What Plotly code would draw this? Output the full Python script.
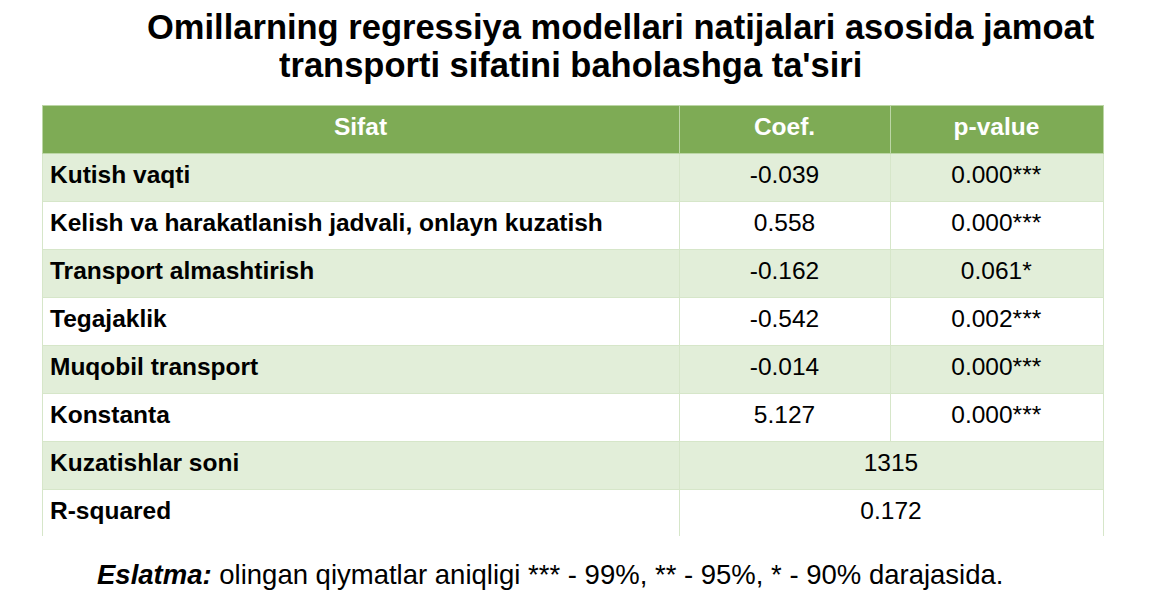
import plotly.graph_objects as go

# ---- data ----
sifat = [
    "Kutish vaqti",
    "Kelish va harakatlanish jadvali, onlayn kuzatish",
    "Transport almashtirish",
    "Tegajaklik",
    "Muqobil transport",
    "Konstanta",
]
coef = ["-0.039", "0.558", "-0.162", "-0.542", "-0.014", "5.127"]
p_value = ["0.000***", "0.000***", "0.061*", "0.002***", "0.000***", "0.000***"]

stat_names = ["Kuzatishlar soni", "R-squared"]
stat_values = ["1315", "0.172"]

headers = ["Sifat", "Coef.", "p-value"]

title_lines = [
    "Omillarning regressiya modellari natijalari asosida jamoat",
    "transporti sifatini baholashga ta'siri",
]
note_label = "Eslatma:"
note_text = "olingan qiymatlar aniqligi *** - 99%, ** - 95%, * - 90% darajasida."

# ---- style ----
W, H = 1156, 616
OFF = 8  # page body margin
GREEN = "#7eab55"
LIGHT = "#e2eed9"
WHITE = "#ffffff"
LINE = "#d6e6c9"
HEAD_LINE = "#bcd6a6"
FONT = "Liberation Sans, Arial, sans-serif"
FS = 24.5
ROW_H = 48


def px(p):
    return (p - OFF) / W


def py(p):
    return 1 - (p - OFF) / H


x0, x1 = px(42), px(1103)
top = py(105)
mid = py(105 + 7 * ROW_H)
bot = py(105 + 9 * ROW_H)

n = len(sifat)
row_fill = [LIGHT if i % 2 == 0 else WHITE for i in range(n)]
col_widths = [637, 211, 213]

main = go.Table(
    domain=dict(x=[x0, x1], y=[mid, top]),
    columnwidth=col_widths,
    header=dict(
        values=[f"<b>{h}</b>" for h in headers],
        fill_color=GREEN,
        line=dict(color=HEAD_LINE, width=1),
        align="center",
        font=dict(family=FONT, size=FS, color="white"),
        height=ROW_H,
    ),
    cells=dict(
        values=[[f"<b>{s}</b>" for s in sifat],
                [f"<span>{c}</span>" for c in coef],
                [f"<span>{p}</span>" for p in p_value]],
        fill_color=[row_fill] * 3,
        line=dict(color=LINE, width=1),
        align=["left", "center", "center"],
        font=dict(family=FONT, size=FS, color="black"),
        height=ROW_H,
    ),
)

# bottom block: value spans the Coef and p-value columns
stats = go.Table(
    domain=dict(x=[x0, x1], y=[bot, mid]),
    columnwidth=[col_widths[0], col_widths[1] + col_widths[2]],
    header=dict(
        values=[f"<b>{stat_names[0]}</b>", f"<span>{stat_values[0]}</span>"],
        fill_color=LIGHT,
        line=dict(color=LINE, width=1),
        align=["left", "center"],
        font=dict(family=FONT, size=FS, color="black"),
        height=ROW_H,
    ),
    cells=dict(
        values=[[f"<b>{stat_names[1]}</b>"], [f"<span>{stat_values[1]}</span>"]],
        fill_color=WHITE,
        line=dict(color=LINE, width=1),
        align=["left", "center"],
        font=dict(family=FONT, size=FS, color="black"),
        height=ROW_H,
    ),
)

fig = go.Figure(data=[main, stats])

title_font = dict(family=FONT, size=34.5, color="black")
fig.add_annotation(x=px(621), y=py(27), xref="paper", yref="paper",
                   text=f"<b>{title_lines[0]}</b>", showarrow=False,
                   borderpad=0,
                   font=title_font, xanchor="center", yanchor="middle")
fig.add_annotation(x=px(570), y=py(65.5), xref="paper", yref="paper",
                   text=f"<b>{title_lines[1]}</b>", showarrow=False,
                   height=38.5, borderpad=0,
                   font=title_font, xanchor="center", yanchor="middle")
fig.add_annotation(x=px(550), y=py(574), xref="paper", yref="paper",
                   text=f"<b><i>{note_label}</i></b> {note_text}", showarrow=False,
                   font=dict(family=FONT, size=27.5, color="black"),
                   xanchor="center", yanchor="middle")

fig.update_layout(
    width=W, height=H,
    margin=dict(l=0, r=0, t=0, b=0),
    paper_bgcolor="white",
    plot_bgcolor="white",
)

fig.write_html("out.html")
